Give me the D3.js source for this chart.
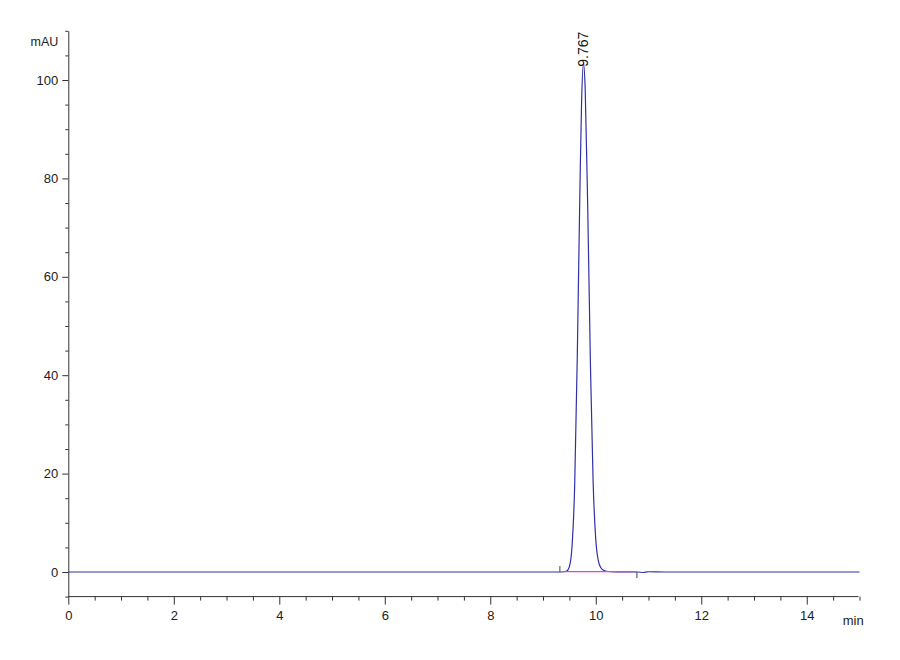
<!DOCTYPE html>
<html>
<head>
<meta charset="utf-8">
<script src="https://cdn.jsdelivr.net/npm/d3@7"></script>
<style>
  html, body { margin: 0; padding: 0; background: #fff; }
  svg { display: block; font-family: "Liberation Sans", Arial, sans-serif; }
</style>
</head>
<body>
<svg id="chart" width="900" height="660"></svg>
<script>
// ---- data ----
const retentionTimes = [0, 2, 4, 6, 8, 9.0, 9.3, 9.35, 9.45, 9.5, 9.55, 9.6, 9.65, 9.7, 9.73, 9.767,
  9.8, 9.85, 9.9, 9.95, 10.0, 10.05, 10.1, 10.15, 10.2, 10.3, 10.5, 10.8, 10.9, 11.0, 11.3, 12, 13, 14, 15];
const absorbance = [0, 0, 0, 0, 0, 0, 0, 0, 0.2, 1.1, 5.2, 17.5, 44, 78, 95, 103.5,
  98, 72.5, 41.5, 18.3, 6.6, 2.2, 0.8, 0.35, 0.15, 0.05, 0, 0, -0.1, 0.05, 0, 0, 0, 0, 0];
const peakLabel = { time: 9.767, height: 103.5, text: "9.767" };
const baselineStart = 9.32, baselineEnd = 10.78;
const xMajorTicks = [0, 2, 4, 6, 8, 10, 12, 14];
const yMajorTicks = [0, 20, 40, 60, 80, 100];
const xUnit = "min", yUnit = "mAU";

// ---- layout ----
const svg = d3.select("#chart");
const x = d3.scaleLinear().domain([0, 15]).range([68.3, 859.5]);
const y = d3.scaleLinear().domain([-5, 110]).range([596.6, 30.8]);
const axisColor = "#333";

// minor tick values
const xMinor = d3.range(0, 15.001, 0.5).filter(v => !xMajorTicks.includes(v));
const yMinor = d3.range(-5, 110.001, 5).filter(v => !yMajorTicks.includes(v));

// X axis
const xAxisY = y(-5);
const gx = svg.append("g").attr("transform", `translate(0,${xAxisY})`);
gx.call(d3.axisBottom(x).tickValues(xMajorTicks).tickSize(8).tickSizeOuter(0).tickFormat(d3.format("d")));
const gxm = svg.append("g").attr("transform", `translate(0,${xAxisY})`);
gxm.call(d3.axisBottom(x).tickValues(xMinor).tickSize(4).tickSizeOuter(0).tickFormat(""));
gxm.select(".domain").remove();
gx.select(".domain").attr("d", `M${x(0)},0H${x(15) - 1}`);
[gx, gxm].forEach(g => {
  g.selectAll("line").attr("stroke", axisColor);
  g.selectAll("path").attr("stroke", axisColor);
});
gx.selectAll("text").attr("font-size", 13).attr("fill", "#222").attr("dy", "0.75em").attr("y", 14);
svg.append("text").attr("x", x(14.88)).attr("y", xAxisY + 28).attr("font-size", 13).attr("fill", "#222")
  .attr("text-anchor", "middle").text(xUnit);

// Y axis
const yAxisX = x(0);
const gy = svg.append("g").attr("transform", `translate(${yAxisX},0)`);
gy.call(d3.axisLeft(y).tickValues(yMajorTicks).tickSize(6).tickSizeOuter(0).tickFormat(d3.format("d")));
const gym = svg.append("g").attr("transform", `translate(${yAxisX},0)`);
gym.call(d3.axisLeft(y).tickValues(yMinor).tickSize(3).tickSizeOuter(0).tickFormat(""));
gym.select(".domain").remove();
[gy, gym].forEach(g => {
  g.selectAll("line").attr("stroke", axisColor);
  g.selectAll("path").attr("stroke", axisColor);
});
gy.selectAll("text").attr("font-size", 13).attr("fill", "#222").attr("x", -10);
svg.append("text").attr("x", yAxisX - 10).attr("y", y(107)).attr("font-size", 12.5).attr("fill", "#222")
  .attr("text-anchor", "end").text(yUnit);

// signal
const data = retentionTimes.map((t, i) => [t, absorbance[i]]);
const line = d3.line().x(d => x(d[0])).y(d => y(d[1])).curve(d3.curveMonotoneX);
svg.append("path").datum(data).attr("d", line)
  .attr("fill", "none").attr("stroke", "#3030a8").attr("stroke-width", 1.2);

// integration baseline (magenta), drawn over the signal
svg.append("line")
  .attr("x1", x(baselineStart + 0.08)).attr("x2", x(baselineEnd))
  .attr("y1", y(0) - 0.3).attr("y2", y(0) - 0.3)
  .attr("stroke", "#e040e0").attr("stroke-width", 1.3);

// baseline start/end markers
svg.append("line")
  .attr("x1", x(baselineStart)).attr("x2", x(baselineStart))
  .attr("y1", y(0)).attr("y2", y(0) - 6).attr("stroke", "#444").attr("stroke-width", 1);
svg.append("line")
  .attr("x1", x(baselineEnd)).attr("x2", x(baselineEnd))
  .attr("y1", y(0)).attr("y2", y(0) + 6).attr("stroke", "#444").attr("stroke-width", 1);

// peak label
svg.append("text")
  .attr("transform", `translate(${x(peakLabel.time) + 5},${y(peakLabel.height) + 4}) rotate(-90)`)
  .attr("font-size", 14).attr("fill", "#111").attr("text-anchor", "start")
  .text(peakLabel.text);
</script>
</body>
</html>
